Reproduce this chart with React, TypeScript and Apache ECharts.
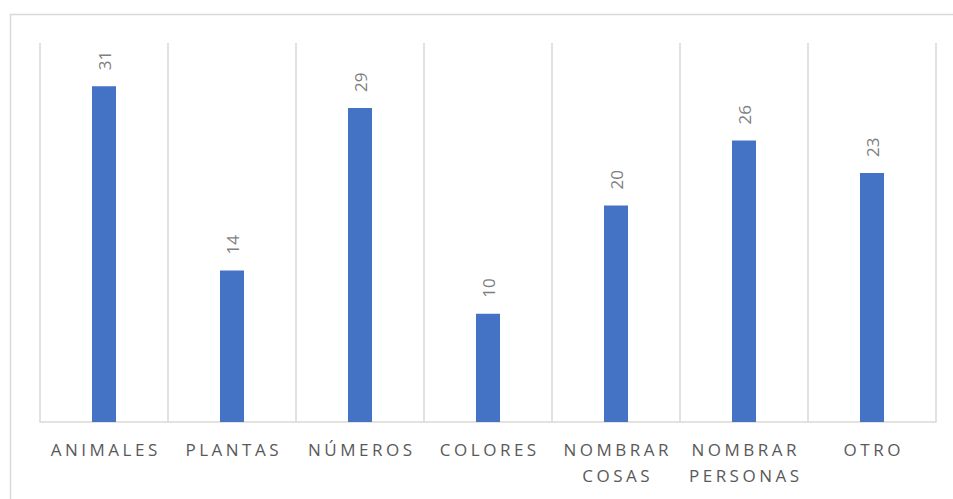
import React, { useEffect, useRef } from "react";
import * as echarts from "echarts";

const categories: string[] = [
  "ANIMALES",
  "PLANTAS",
  "NÚMEROS",
  "COLORES",
  "NOMBRAR\nCOSAS",
  "NOMBRAR\nPERSONAS",
  "OTRO",
];
const counts: number[] = [31, 14, 29, 10, 20, 26, 23];
const valueMax = 35;

const FONT = "'Open Sans', 'Liberation Sans', sans-serif";
const AXIS_TEXT = "#595959";
const VALUE_TEXT = "#7f7f7f";
const LINE = "#d9d9d9";
const SPACING = 3.5;

// spaced-out category captions, applied to the SVG text nodes
function spaceCategoryText(root: HTMLElement) {
  const lines = new Set<string>();
  categories.forEach((c) => c.split("\n").forEach((l) => lines.add(l)));
  root.querySelectorAll("text").forEach((t) => {
    const s = (t.textContent || "").trim();
    if (lines.has(s)) {
      (t as SVGTextElement).style.letterSpacing = `${SPACING}px`;
      t.setAttribute("dx", String(SPACING / 2));
    }
  });
}

export default function App() {
  const ref = useRef<HTMLDivElement>(null);

  useEffect(() => {
    if (!ref.current) return;
    const chart = echarts.init(ref.current, undefined, { renderer: "svg" });
    chart.setOption({
      animation: false,
      backgroundColor: "#ffffff",
      graphic: [
        {
          type: "rect",
          shape: { x: 10.5, y: 14.5, width: 980, height: 520 },
          style: { fill: "none", stroke: LINE, lineWidth: 1.5 },
          silent: true,
          z: -1,
        },
      ],
      grid: { left: 40, right: 17, top: 43, bottom: 77, containLabel: false },
      xAxis: {
        type: "category",
        data: categories,
        boundaryGap: true,
        axisLine: { show: true, lineStyle: { color: LINE, width: 1.5 } },
        axisTick: { show: false },
        splitLine: { show: true, interval: 0, lineStyle: { color: LINE, width: 1.5 } },
        axisLabel: {
          interval: 0,
          margin: 14,
          color: AXIS_TEXT,
          fontFamily: FONT,
          fontSize: 17,
          lineHeight: 26,
        },
      },
      yAxis: {
        type: "value",
        min: 0,
        max: valueMax,
        show: false,
        splitLine: { show: false },
      },
      series: [
        {
          type: "bar",
          data: counts,
          barWidth: 24,
          itemStyle: { color: "#4472c4" },
          label: {
            show: true,
            position: "top",
            rotate: 90,
            align: "left",
            verticalAlign: "middle",
            distance: 16,
            color: VALUE_TEXT,
            fontFamily: FONT,
            fontSize: 17,
          },
        },
      ],
    });
    spaceCategoryText(ref.current);
    return () => chart.dispose();
  }, []);

  return (
    <div
      ref={ref}
      style={{ position: "fixed", left: 0, top: 0, width: 953, height: 499 }}
    />
  );
}
